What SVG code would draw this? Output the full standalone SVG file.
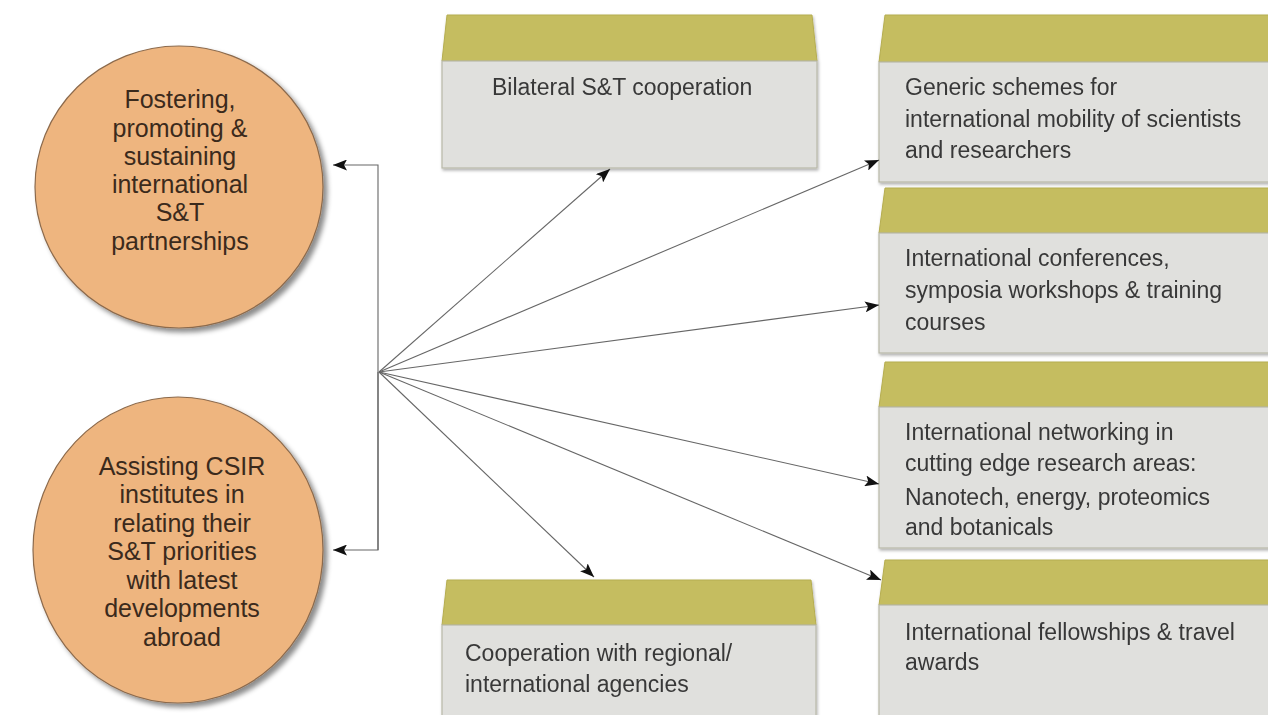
<svg xmlns="http://www.w3.org/2000/svg" width="1268" height="715" viewBox="0 0 1268 715">
<defs>
<filter id="sh" x="-10%" y="-10%" width="130%" height="130%">
<feDropShadow dx="4" dy="4" stdDeviation="2.5" flood-color="#000" flood-opacity="0.45"/>
</filter>
<filter id="bsh" x="-5%" y="-5%" width="110%" height="115%">
<feDropShadow dx="1" dy="2" stdDeviation="1.5" flood-color="#000" flood-opacity="0.3"/>
</filter>
<marker id="ah" viewBox="0 0 14 11" refX="14" refY="5.5" markerWidth="14" markerHeight="11" markerUnits="userSpaceOnUse" orient="auto">
<path d="M0,0 L14,5.5 L0,11 L3,5.5 Z" fill="#111"/>
</marker>
<style>
.circ{fill:#EEB57F;stroke:#8C6A4C;stroke-width:1.2;}
.ctext{font-family:"Liberation Sans",Arial,sans-serif;font-size:25px;fill:#3B2A1C;text-anchor:middle;}
.top{fill:#C5BD60;stroke:#B5AD50;stroke-width:1;}
.body{fill:#E0E0DD;stroke:#B8B8A8;stroke-width:1.2;}
.btext{font-family:"Liberation Sans",Arial,sans-serif;font-size:23px;fill:#383838;}
.conn{fill:none;stroke:#666;stroke-width:1.1;}
</style>
</defs>
<rect width="1268" height="715" fill="#fff"/>

<g id="node-fostering">
<ellipse class="circ" cx="179" cy="187" rx="144" ry="141" filter="url(#sh)"/>
<text class="ctext"><tspan x="180" y="108">Fostering,</tspan><tspan x="180" y="137">promoting &amp;</tspan><tspan x="180" y="165">sustaining</tspan><tspan x="180" y="193">international</tspan><tspan x="180" y="221">S&amp;T</tspan><tspan x="180" y="250">partnerships</tspan></text>
</g>

<g id="node-assisting">
<ellipse class="circ" cx="178" cy="550" rx="145" ry="153" filter="url(#sh)"/>
<text class="ctext"><tspan x="182" y="475">Assisting CSIR</tspan><tspan x="182" y="503">institutes in</tspan><tspan x="182" y="532">relating their</tspan><tspan x="182" y="560">S&amp;T priorities</tspan><tspan x="182" y="589">with latest</tspan><tspan x="182" y="617">developments</tspan><tspan x="182" y="646">abroad</tspan></text>
</g>

<g id="node-bilateral" filter="url(#bsh)">
<polygon class="top" points="447,15 812,15 817,61 442,61"/>
<rect class="body" x="442" y="61" width="375" height="107"/>
<text class="btext" x="492" y="95">Bilateral S&amp;T cooperation</text>
</g>

<g id="node-cooperation" filter="url(#bsh)">
<polygon class="top" points="447,580 811,580 816,625 442,625"/>
<rect class="body" x="442" y="625" width="374" height="100"/>
<text class="btext"><tspan x="465" y="661">Cooperation with regional/</tspan><tspan x="465" y="692">international agencies</tspan></text>
</g>

<g id="node-generic" filter="url(#bsh)">
<polygon class="top" points="885,15 1275,15 1275,62 879,62"/>
<rect class="body" x="879" y="62" width="400" height="120"/>
<text class="btext"><tspan x="905" y="95">Generic schemes for</tspan><tspan x="905" y="127">international mobility of scientists</tspan><tspan x="905" y="158">and researchers</tspan></text>
</g>

<g id="node-conferences" filter="url(#bsh)">
<polygon class="top" points="885,188 1275,188 1275,233 879,233"/>
<rect class="body" x="879" y="233" width="400" height="120"/>
<text class="btext"><tspan x="905" y="266">International conferences,</tspan><tspan x="905" y="298">symposia workshops &amp; training</tspan><tspan x="905" y="330">courses</tspan></text>
</g>

<g id="node-networking" filter="url(#bsh)">
<polygon class="top" points="885,362 1275,362 1275,407 879,407"/>
<rect class="body" x="879" y="407" width="400" height="141"/>
<text class="btext"><tspan x="905" y="440">International networking in</tspan><tspan x="905" y="471">cutting edge research areas:</tspan><tspan x="905" y="505">Nanotech, energy, proteomics</tspan><tspan x="905" y="535">and botanicals</tspan></text>
</g>

<g id="node-fellowships" filter="url(#bsh)">
<polygon class="top" points="885,560 1275,560 1275,605 879,605"/>
<rect class="body" x="879" y="605" width="400" height="120"/>
<text class="btext"><tspan x="905" y="640">International fellowships &amp; travel</tspan><tspan x="905" y="670">awards</tspan></text>
</g>

<g id="connectors">
<polyline class="conn" points="378,550 378,165 333,165" marker-end="url(#ah)"/>
<polyline class="conn" points="378,372 378,550 333,550" marker-end="url(#ah)"/>
<line class="conn" x1="379" y1="372" x2="610" y2="169" marker-end="url(#ah)"/>
<line class="conn" x1="379" y1="372" x2="879" y2="160" marker-end="url(#ah)"/>
<line class="conn" x1="379" y1="372" x2="879" y2="305" marker-end="url(#ah)"/>
<line class="conn" x1="379" y1="372" x2="879" y2="484" marker-end="url(#ah)"/>
<line class="conn" x1="379" y1="372" x2="881" y2="580" marker-end="url(#ah)"/>
<line class="conn" x1="379" y1="372" x2="594" y2="577" marker-end="url(#ah)"/>
</g>
</svg>
